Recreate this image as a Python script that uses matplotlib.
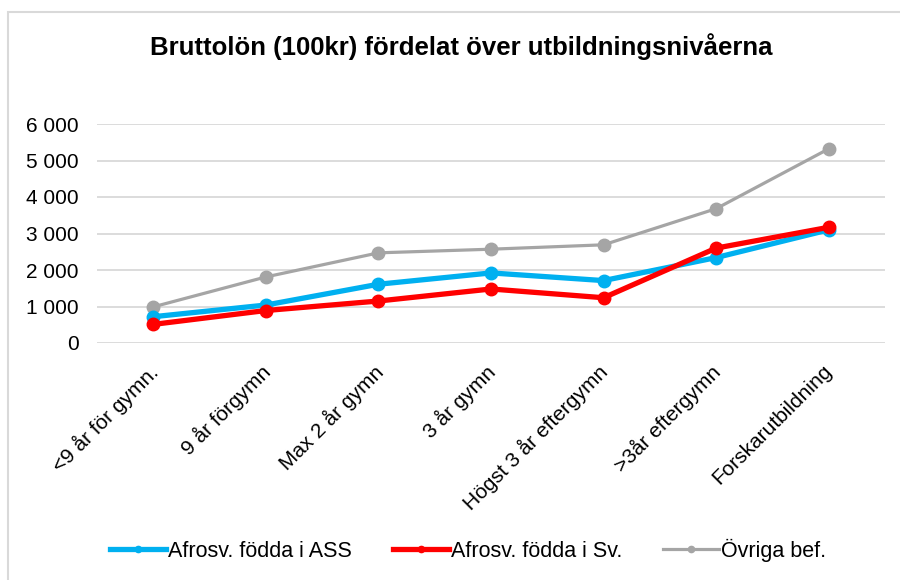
import matplotlib.pyplot as plt
import matplotlib.transforms as mtransforms
from matplotlib.patches import Rectangle
from matplotlib.ticker import FuncFormatter

plt.rcParams['font.family'] = ['Liberation Sans', 'DejaVu Sans']

categories = ['<9 år för gymn.', '9 år förgymn', 'Max 2 år gymn', '3 år gymn',
              'Högst 3 år eftergymn', '>3år eftergymn', 'Forskarutbildning']
afro_ass = [720, 1040, 1610, 1920, 1710, 2340, 3100]
afro_sv = [510, 890, 1150, 1480, 1240, 2600, 3170]
ovriga = [990, 1810, 2470, 2570, 2690, 3680, 5320]
yticks = [0, 1000, 2000, 3000, 4000, 5000, 6000]

fig = plt.figure(figsize=(9, 5.8), dpi=100)
fig.patches.append(Rectangle((8 / 900, -0.05), 1.1, 1 - 12 / 580 + 0.05,
                             transform=fig.transFigure, fill=False,
                             edgecolor='#D9D9D9', linewidth=1.5))

ax = fig.add_axes([97 / 900, 1 - 343 / 580, 788 / 900, 219 / 580])
x = range(len(categories))

ax.plot(x, afro_ass, color='#00B0F0', linewidth=3.8, marker='o', markersize=9,
        label='Afrosv. födda i ASS', zorder=3)
ax.plot(x, afro_sv, color='#FF0000', linewidth=3.8, marker='o', markersize=9,
        label='Afrosv. födda i Sv.', zorder=4)
ax.plot(x, ovriga, color='#A5A5A5', linewidth=2.3, marker='o', markersize=9,
        label='Övriga bef.', zorder=2)

ax.set_xlim(-0.5, len(categories) - 0.5)
ax.set_ylim(0, 6000)
ax.set_yticks(yticks)
ax.yaxis.set_major_formatter(FuncFormatter(lambda v, p: f'{int(v):,}'.replace(',', ' ')))
ax.grid(axis='y', color='#D9D9D9', linewidth=1.3)
ax.set_axisbelow(True)
for s in ax.spines.values():
    s.set_visible(False)
ax.tick_params(length=0, labelsize=15, colors='black')
ax.tick_params(axis='y', pad=13)
ax.set_xticks(list(x))
ax.set_xticklabels(categories, rotation=45, ha='right', va='top',
                   rotation_mode='anchor', fontsize=15)
ax.tick_params(axis='x', pad=13)

# nudge the slanted labels a little to the left, like Excel
shift = mtransforms.ScaledTranslation(-6 / 100, 0, fig.dpi_scale_trans)
for lbl in ax.get_xticklabels():
    lbl.set_transform(lbl.get_transform() + shift)

fig.text(0.512, 1 - 47 / 580, 'Bruttolön (100kr) fördelat över utbildningsnivåerna',
         ha='center', va='center', fontsize=18.5, fontweight='bold')

fig.legend(loc='center', bbox_to_anchor=(0.52, 1 - 550 / 580), ncol=3,
           frameon=False, fontsize=15.5, handlelength=2.6, handletextpad=0.1,
           columnspacing=1.9, markerscale=0.5)

fig.savefig('out.png', dpi=100)
